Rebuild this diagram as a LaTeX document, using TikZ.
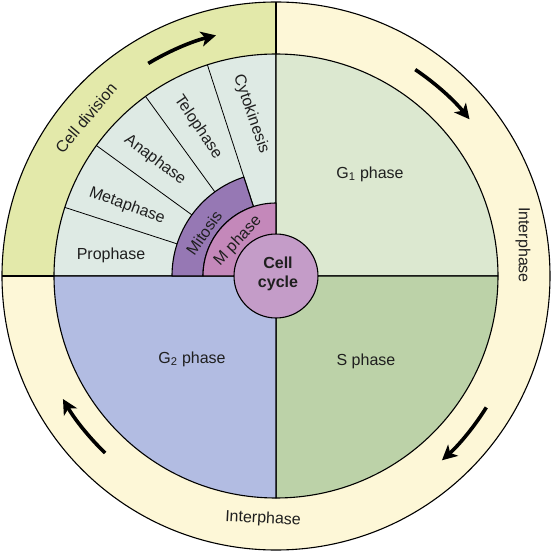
\documentclass[tikz,border=0pt]{standalone}
\usepackage{fontspec}
\setmainfont{Liberation Sans}
\usetikzlibrary{arrows.meta}
\definecolor{interph}{HTML}{FDF7D7}
\definecolor{celldiv}{HTML}{E3E9AA}
\definecolor{mitq}{HTML}{DEEAE4}
\definecolor{gone}{HTML}{DCE8D0}
\definecolor{sph}{HTML}{BCD2A8}
\definecolor{gtwo}{HTML}{B2BCE2}
\definecolor{mitos}{HTML}{9678B4}
\definecolor{mph}{HTML}{C488BA}
\definecolor{ccyc}{HTML}{C49CC8}
\begin{document}
\begin{tikzpicture}[x=1pt,y=1pt,line join=round,
  edge/.style={line width=1.1pt,draw=black},
  lbl/.style={font=\fontsize{16}{19}\selectfont,text=black!88,inner sep=0pt,align=center},
  cyclearrow/.style={line width=3.6pt,-{Stealth[length=15pt,width=15pt,inset=4pt]}}]
\useasboundingbox (-276,-276) rectangle (276,276);
% outer ring
\fill[interph] (0,0) circle[radius=274pt];
\fill[celldiv] (0,0) -- (90:274pt) arc[start angle=90,end angle=180,radius=274pt] -- cycle;
\draw[edge] (90:222pt) -- (90:274pt);
\draw[edge] (180:222pt) -- (180:274pt);
% quadrants
\filldraw[fill=mitq,edge] (0,0) -- (90:222pt) arc[start angle=90,end angle=180,radius=222pt] -- cycle;
\filldraw[fill=gone,edge] (0,0) -- (0:222pt) arc[start angle=0,end angle=90,radius=222pt] -- cycle;
\filldraw[fill=sph,edge] (0,0) -- (270:222pt) arc[start angle=270,end angle=360,radius=222pt] -- cycle;
\filldraw[fill=gtwo,edge] (0,0) -- (180:222pt) arc[start angle=180,end angle=270,radius=222pt] -- cycle;
% sector lines
\draw[line width=0.8pt] (162:104pt) -- (162:222pt);
\draw[line width=0.8pt] (144:104pt) -- (144:222pt);
\draw[line width=0.8pt] (126:104pt) -- (126:222pt);
\draw[line width=0.8pt] (108:73pt) -- (108:222pt);
% mitosis band
\filldraw[fill=mitos,edge] (108:73pt) -- (108:104pt) arc[start angle=108,end angle=180,radius=104pt] -- (180:73pt) arc[start angle=180,end angle=108,radius=73pt] -- cycle;
% M phase
\filldraw[fill=mph,edge] (0,0) -- (90:73pt) arc[start angle=90,end angle=180,radius=73pt] -- cycle;
% center
\filldraw[fill=ccyc,edge] (0,0) circle[radius=42pt];
\draw[edge] (0,0) circle[radius=274pt];
% arrows
\draw[cyclearrow] (121:248pt) arc[start angle=121,end angle=104,radius=248pt];
\draw[cyclearrow] (56:249pt) arc[start angle=56,end angle=39,radius=249pt];
\draw[cyclearrow] (-32:248pt) arc[start angle=-32,end angle=-48,radius=248pt];
\draw[cyclearrow] (226:246pt) arc[start angle=226,end angle=210,radius=246pt];
% labels
\node[lbl] (g1) at (94,102) {G\textsubscript{1} phase};
\node[lbl] (sp) at (90,-85) {S phase};
\node[lbl] (g2) at (-84,-83) {G\textsubscript{2} phase};
\node[lbl] (pro) at (-165,21) {Prophase};
\node[lbl,rotate=-20] (meta) at (-149,70) {Metaphase};
\node[lbl,rotate=-37] (ana) at (-121,116) {Anaphase};
\node[lbl,rotate=-56] (telo) at (-78,149) {Telophase};
\node[lbl,rotate=-71] (cyto) at (-25,162) {Cytokinesis};
\node[lbl,rotate=55] (mit) at (-72,43) {Mitosis};
\node[lbl,rotate=47] (mp) at (-38,35) {M phase};
\node[lbl,font=\fontsize{16}{19}\selectfont\bfseries] (cc) at (2,2) {Cell\\cycle};
\node[lbl,rotate=-90] (intr) at (247,31) {Interphase};
\node[lbl,rotate=-3] (intb) at (-13,-243) {Interphase};
\node[lbl,rotate=50] (cdiv) at (-190,158) {Cell division};
\end{tikzpicture}
\end{document}
